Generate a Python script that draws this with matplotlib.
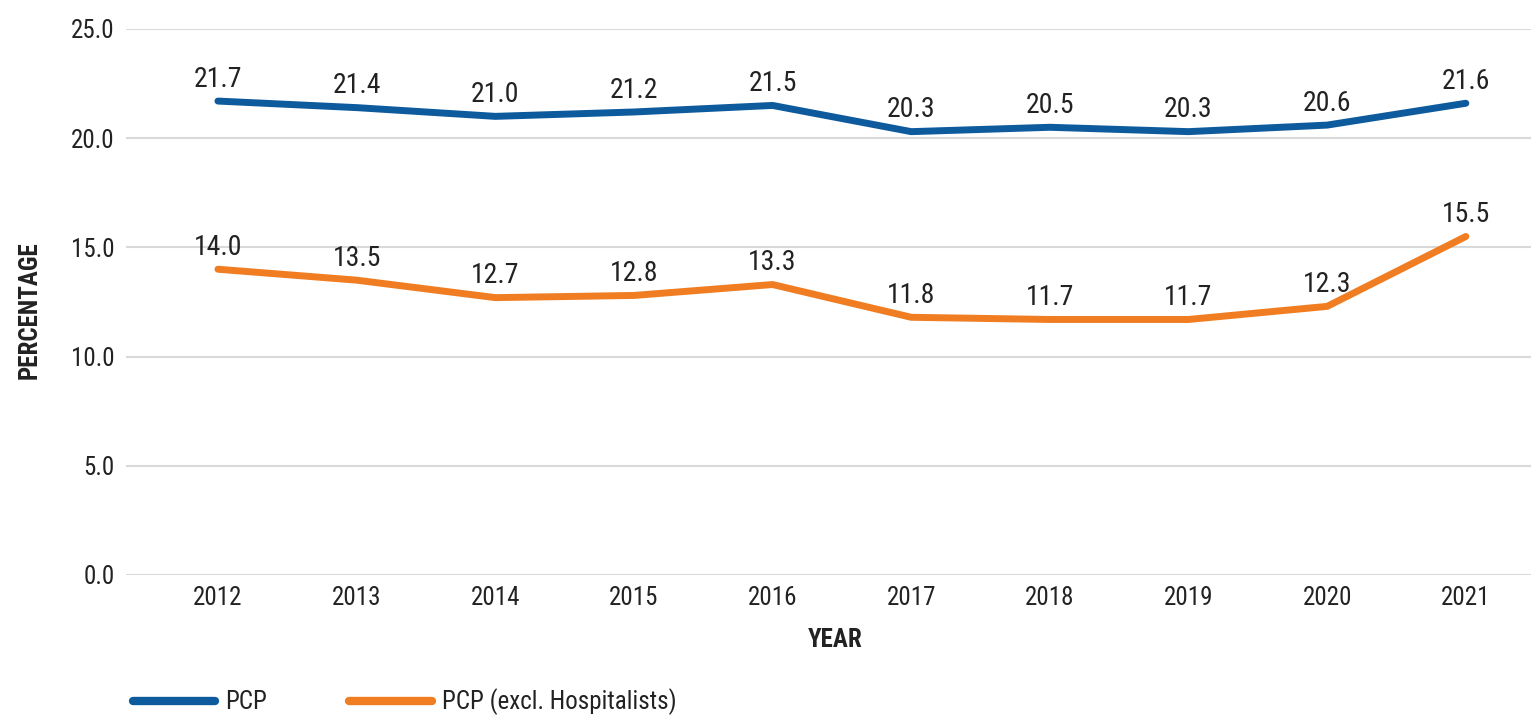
import matplotlib
matplotlib.use("Agg")
import matplotlib.pyplot as plt
from matplotlib.lines import Line2D
from matplotlib import font_manager

years = ["2012", "2013", "2014", "2015", "2016", "2017", "2018", "2019", "2020", "2021"]
pcp = [21.7, 21.4, 21.0, 21.2, 21.5, 20.3, 20.5, 20.3, 20.6, 21.6]
pcp_excl = [14.0, 13.5, 12.7, 12.8, 13.3, 11.8, 11.7, 11.7, 12.3, 15.5]
yticks = [0.0, 5.0, 10.0, 15.0, 20.0, 25.0]
series_names = ["PCP", "PCP (excl. Hospitalists)"]

names = {f.name for f in font_manager.fontManager.ttflist}
fam = ["Roboto", "DejaVu Sans"]
for cand in ["Roboto Condensed", "Liberation Sans Narrow"]:
    if cand in names:
        fam = [cand, "DejaVu Sans"]
        break
plt.rcParams["font.family"] = fam

blue = "#0d5a9c"
orange = "#f07d22"
txt = "#222222"

fig = plt.figure(figsize=(15.31, 7.17), dpi=100)
ax = fig.add_axes([126 / 1531, 1 - 575 / 717, (1531 - 126) / 1531, (575 - 29) / 717])

x = list(range(len(years)))
ax.plot(x, pcp, color=blue, lw=5, solid_capstyle="round", zorder=3)
ax.plot(x, pcp_excl, color=orange, lw=5, solid_capstyle="round", zorder=3)

for xi, v in zip(x, pcp):
    ax.annotate(f"{v:.1f}", (xi, v), xytext=(0, 6), textcoords="offset points",
                ha="center", va="bottom", fontsize=20, color=txt)
for xi, v in zip(x, pcp_excl):
    ax.annotate(f"{v:.1f}", (xi, v), xytext=(0, 6), textcoords="offset points",
                ha="center", va="bottom", fontsize=20, color=txt)

ax.set_ylim(0, 25)
ax.set_xlim(-0.663, 9.47)
ax.set_yticks(yticks)
ax.set_yticklabels([f"{t:.1f}" for t in yticks])
ax.set_xticks(x)
ax.set_xticklabels(years)
ax.tick_params(axis="both", length=0, labelsize=18, colors=txt)
ax.tick_params(axis="y", pad=8)
ax.tick_params(axis="x", pad=8)
for s in ax.spines.values():
    s.set_visible(False)
ax.grid(axis="y", color="#d9d9d9", lw=1.5)
ax.set_axisbelow(True)

fig.text(835 / 1531, 1 - 640 / 717, "YEAR", ha="center", va="center",
         fontsize=18, fontweight="bold", color=txt)
fig.text(30 / 1531, 1 - 310 / 717, "PERCENTAGE", ha="center", va="center",
         rotation=90, fontsize=18, fontweight="bold", color=txt)

handles = [Line2D([], [], color=blue, lw=6, solid_capstyle="round"),
           Line2D([], [], color=orange, lw=6, solid_capstyle="round")]
fig.legend(handles, series_names, loc="center left", bbox_to_anchor=(110 / 1531, 1 - 702 / 717),
           ncol=2, frameon=False, fontsize=18, handlelength=3.3, handletextpad=0.4,
           columnspacing=3.3, labelcolor=txt)

fig.savefig("out.png", dpi=100)
